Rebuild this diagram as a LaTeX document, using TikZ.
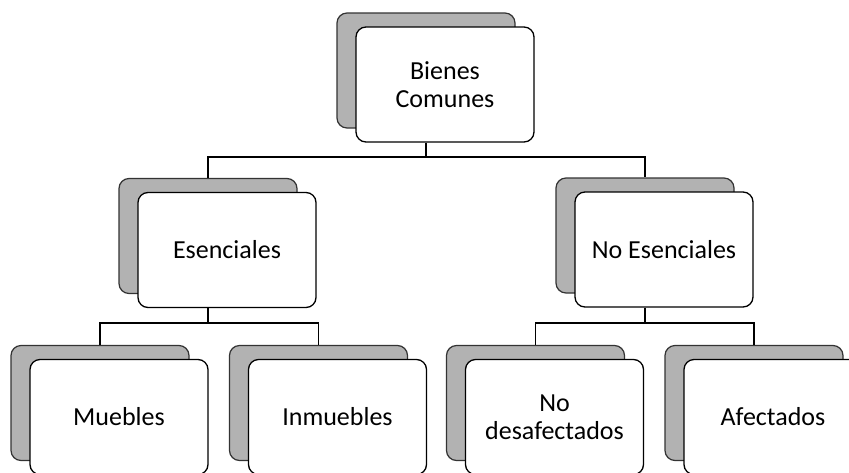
\documentclass[tikz,border=0pt]{standalone}
\usepackage{fontspec}
\setmainfont{Carlito}
\usetikzlibrary{calc}
\begin{document}
\begin{tikzpicture}[x=1pt,y=-1pt,
  front/.style={draw=black, line width=1.3pt, fill=white, rounded corners=10pt,
    minimum width=178pt, minimum height=115pt, align=center,
    font=\fontsize{26}{28}\selectfont, inner sep=2pt},
  back/.style={draw=black!80, line width=1.2pt, fill=gray!60, rounded corners=10pt,
    minimum width=178pt, minimum height=115pt, inner sep=0pt},
  conn/.style={draw=black, line width=1.6pt}]
\useasboundingbox (0,0) rectangle (849,472);
\clip (0,0) rectangle (849,472);
\fill[white] (0,0) rectangle (849,472);
% level 1
\node[back]  (ts) at (426,70.5) {};
\node[front] (t)  at (445,84.5) {Bienes\\Comunes};
% level 2
\node[back]  (es) at (208,236) {};
\node[front] (e)  at (227,250) {Esenciales};
\node[back]  (ns) at (645,235.5) {};
\node[front] (n)  at (664,249.5) {No Esenciales};
% level 3
\node[back]  (ms) at (100,403) {};
\node[front] (m)  at (119,417) {Muebles};
\node[back]  (is) at (318.5,403) {};
\node[front] (i)  at (337.5,417) {Inmuebles};
\node[back]  (ds) at (535.5,403) {};
\node[front] (d)  at (554.5,417) {No\\desafectados};
\node[back]  (as) at (754,403) {};
\node[front] (a)  at (773,417) {Afectados};
% buses
\coordinate (b1) at (0,157);
\coordinate (b2) at (0,323);
\draw[conn] (ts |- t.south) -- (ts |- b1);
\draw[conn] (es.north) |- (ns |- b1) -- (ns.north);
\draw[conn] (es |- e.south) -- (es |- b2);
\draw[conn] (ms.north) |- (is |- b2) -- (is.north);
\draw[conn] (ns |- n.south) -- (ns |- b2);
\draw[conn] (ds.north) |- (as |- b2) -- (as.north);
\end{tikzpicture}
\end{document}
